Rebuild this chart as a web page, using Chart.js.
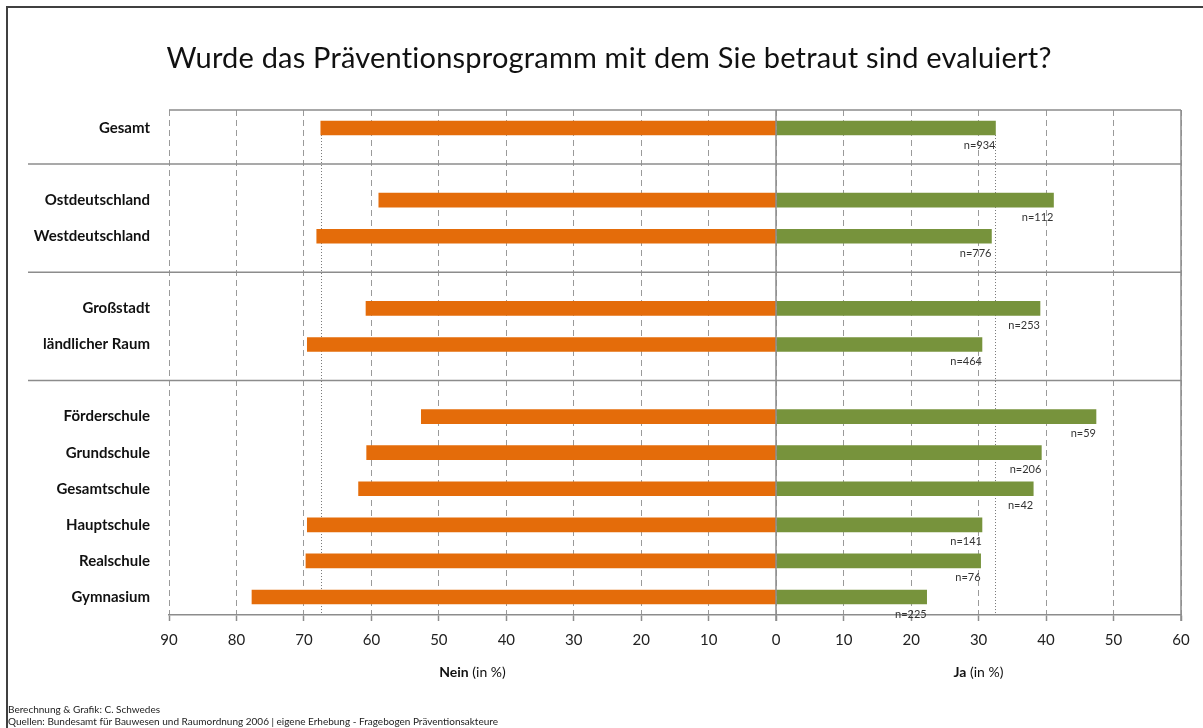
<!DOCTYPE html>
<html>
<head>
<meta charset="utf-8">
<script src="https://cdn.jsdelivr.net/npm/chart.js@4.4.0/dist/chart.umd.min.js"></script>
<style>
    body { margin: 0; background: #fff; font-family: Lato, "Open Sans", sans-serif; }
    #wrap { position: relative; width: 1203px; height: 728px; overflow: hidden; }
    #frame { position: absolute; left: 6px; top: 6px; right: -10px; bottom: -10px; border-left: 2px solid #404040; border-top: 2px solid #404040; }
    #chart { position: absolute; left: 0; top: 0; }
    .title { position: absolute; left: 0; width: 1218px; top: 39px; text-align: center; font-size: 29px; color: #111; letter-spacing: 0.2px; }
    .foot { position: absolute; left: 8px; font-size: 10px; color: #222; }
</style>
</head>
<body>
<div id="wrap">
    <div id="frame"></div>
    <canvas id="chart" width="1203" height="728"></canvas>
    <div class="title">Wurde das Präventionsprogramm mit dem Sie betraut sind evaluiert?</div>
    <div class="foot" style="top:703px">Berechnung &amp; Grafik: C. Schwedes</div>
    <div class="foot" style="top:715px">Quellen: Bundesamt für Bauwesen und Raumordnung 2006 | eigene Erhebung - Fragebogen Präventionsakteure</div>
</div>
<script>
// Data (blank rows are group separators)
const categories = ['Gesamt', '', 'Ostdeutschland', 'Westdeutschland', '', 'Großstadt', 'ländlicher Raum', '',
    'Förderschule', 'Grundschule', 'Gesamtschule', 'Hauptschule', 'Realschule', 'Gymnasium'];
const neinValues = [67.5, null, 58.9, 68.1, null, 60.8, 69.5, null, 52.6, 60.7, 61.9, 69.5, 69.7, 77.7];
const jaValues = [32.5, null, 41.1, 31.9, null, 39.1, 30.5, null, 47.4, 39.3, 38.1, 30.5, 30.3, 22.3];
const nLabels = ['n=934', '', 'n=112', 'n=776', '', 'n=253', 'n=464', '', 'n=59', 'n=206', 'n=42', 'n=141', 'n=76', 'n=225'];
const xTicks = { min: -90, max: 60, step: 10 };

const FONT = 'Lato, "Open Sans", sans-serif';

// Extra drawing: frame lines, separators, reference lines, n labels, axis titles
const extras = {
    id: 'extras',
    beforeDatasetsDraw(chart) {
        const { ctx, chartArea: a, scales: { x, y } } = chart;
        ctx.save();
        ctx.strokeStyle = '#8c8c8c';
        ctx.lineWidth = 1.5;
        // top and right border
        ctx.beginPath();
        ctx.moveTo(a.left, a.top); ctx.lineTo(a.right, a.top);
        ctx.moveTo(a.right, a.top); ctx.lineTo(a.right, a.bottom + 6);
        ctx.stroke();
        // group separators
        categories.forEach((c, i) => {
            if (c !== '') return;
            const py = y.getPixelForValue(i);
            ctx.beginPath();
            ctx.moveTo(28, py); ctx.lineTo(a.right, py);
            ctx.stroke();
        });
        // reference lines from "Gesamt"
        ctx.strokeStyle = '#777';
        ctx.lineWidth = 1;
        ctx.setLineDash([1, 2]);
        const y0 = y.getPixelForValue(0) + 7;
        [-neinValues[0], jaValues[0]].forEach(v => {
            const px = Math.round(x.getPixelForValue(v)) + 0.5;
            ctx.beginPath();
            ctx.moveTo(px, y0); ctx.lineTo(px, a.bottom);
            ctx.stroke();
        });
        ctx.restore();
    },
    afterDatasetsDraw(chart) {
        const { ctx, chartArea: a, scales: { x } } = chart;
        ctx.save();
        // zero line
        const zx = Math.round(x.getPixelForValue(0));
        ctx.strokeStyle = '#8c8c8c';
        ctx.lineWidth = 1.5;
        ctx.beginPath();
        ctx.moveTo(zx, a.top); ctx.lineTo(zx, a.bottom + 6);
        ctx.stroke();
        // n labels under the Ja bars
        ctx.fillStyle = '#333';
        ctx.font = '11px ' + FONT;
        ctx.textAlign = 'right';
        ctx.textBaseline = 'middle';
        chart.getDatasetMeta(1).data.forEach((el, i) => {
            if (!nLabels[i]) return;
            ctx.fillText(nLabels[i], el.x, el.y + 17);
        });
        // axis titles
        ctx.fillStyle = '#111';
        ctx.textAlign = 'left';
        const axisTitle = (bold, rest, cx) => {
            ctx.font = 'bold 14px ' + FONT;
            const w1 = ctx.measureText(bold).width;
            ctx.font = '14px ' + FONT;
            const w2 = ctx.measureText(rest).width;
            let sx = cx - (w1 + w2) / 2;
            ctx.font = 'bold 14px ' + FONT;
            ctx.fillText(bold, sx, 672);
            ctx.font = '14px ' + FONT;
            ctx.fillText(rest, sx + w1, 672);
        };
        axisTitle('Nein', ' (in %)', (x.getPixelForValue(xTicks.min) + zx) / 2);
        axisTitle('Ja', ' (in %)', (x.getPixelForValue(xTicks.max) + zx) / 2);
        ctx.restore();
    }
};

const ctx = document.getElementById('chart').getContext('2d');
const chart = new Chart(ctx, {
    type: 'bar',
    data: {
        labels: categories,
        datasets: [{
            label: 'Nein',
            data: neinValues.map(v => v === null ? null : -v),
            backgroundColor: '#E46C0A',
            barThickness: 14
        }, {
            label: 'Ja',
            data: jaValues,
            backgroundColor: '#77933C',
            barThickness: 14
        }]
    },
    options: {
        indexAxis: 'y',
        responsive: false,
        devicePixelRatio: 1,
        animation: false,
        layout: { padding: { left: 0, right: 22, top: 110, bottom: 0 } },
        scales: {
            x: {
                stacked: true,
                min: xTicks.min,
                max: xTicks.max,
                ticks: {
                    stepSize: xTicks.step,
                    callback: v => Math.abs(v),
                    color: '#222',
                    font: { size: 15, family: FONT },
                    padding: 10,
                    maxRotation: 0
                },
                grid: {
                    color: '#9a9a9a',
                    lineWidth: 1,
                    tickLength: 6,
                    tickColor: '#8c8c8c',
                    tickWidth: 1.5
                },
                border: { display: true, color: '#8c8c8c', width: 1.5, dash: [6, 4] },
                afterFit: s => { s.height = 113; }
            },
            y: {
                stacked: true,
                ticks: {
                    color: '#111',
                    font: { size: 15, weight: 'bold', family: FONT },
                    padding: 19
                },
                grid: { display: false, drawTicks: false },
                border: { display: false },
                afterFit: s => { s.width = 169; }
            }
        },
        plugins: {
            legend: { display: false },
            tooltip: { enabled: false }
        }
    },
    plugins: [extras]
});
</script>
</body>
</html>
